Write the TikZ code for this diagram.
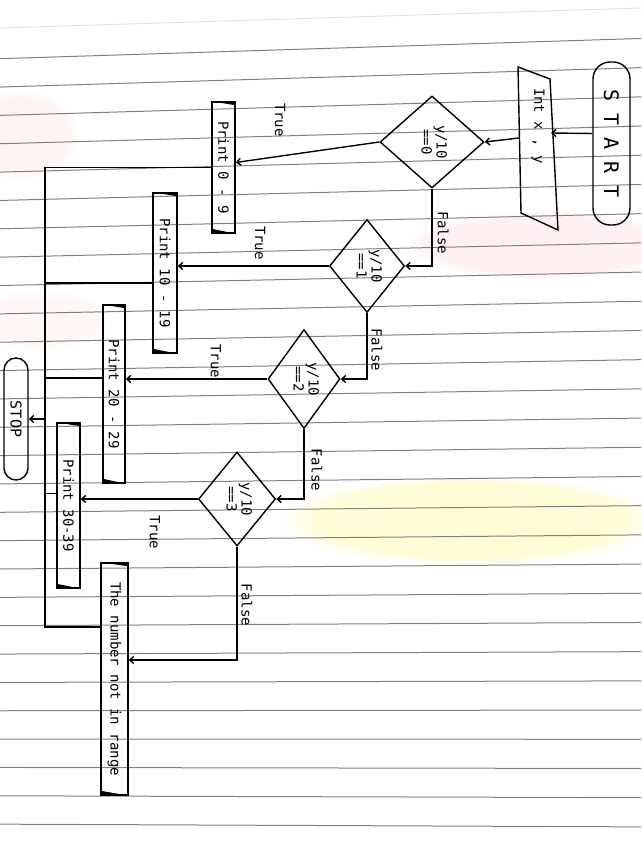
\documentclass[tikz,border=0pt]{standalone}
\usepackage{fontspec}
\usepackage{graphicx}
\usetikzlibrary{shapes.geometric,arrows.meta,fadings}
\newfontfamily\hand{DejaVu Sans Mono}
\newfontfamily\handwide[LetterSpace=60]{DejaVu Sans Mono}
\newcommand\rt[1]{\rotatebox{-90}{#1}}
\newcommand\cornermarks[1]{%
  \fill (#1.north west) -- (#1.north east) -- ([yshift=-4pt]#1.north east) -- cycle;
  \fill (#1.south west) -- ([yshift=5pt]#1.south west) -- (#1.south east) -- cycle;}
\tikzset{
  line/.style={line width=1.4pt},
  arr/.style={line width=1.4pt, -{Straight Barb[length=4pt,width=7pt]}},
  terminal/.style={draw, line width=1.4pt, rounded corners=12pt, inner sep=0pt},
  outbox/.style={draw, line width=1.4pt, inner sep=0pt},
  decision/.style={draw, diamond, line width=1.4pt, inner sep=0pt, font=\hand\fontsize{14}{15}\selectfont},
  lbl/.style={rotate=-90, inner sep=0pt},
  ruled/.style={black!50, line width=1pt},
  stain/.style={path fading=circle with fuzzy edge 20 percent}
}

\begin{document}
\begin{tikzpicture}[x=1pt, y=-1pt, font=\hand\fontsize{14}{16}\selectfont]
    \useasboundingbox (0,0) rectangle (641,842);
    \fill[white] (0,0) rectangle (641,842);
    \fill[stain, pink!22] (545,245) ellipse (140 and 35);
    \fill[stain, yellow!16] (470,520) ellipse (190 and 45);
    \fill[stain, pink!18] (20,135) ellipse (60 and 45);
    \fill[stain, pink!14] (40,320) ellipse (70 and 30);
    \draw[pink!50!gray!40, line width=0.8pt] (0,28) -- (641,8);
    \foreach \k in {2,...,29} {
      \pgfmathsetmacro\ya{2+28.35*\k}
      \pgfmathsetmacro\yb{\ya-22+0.03*\ya}
      \draw[ruled] (0,\ya) -- (641,\yb);
    }

    \node [terminal, minimum width=37, minimum height=163, rounded corners=17pt, font=\handwide\fontsize{20}{22}\selectfont] (start) at (611.5,143.5) {\rt{START}};
    \draw [line] (518,67) -- (550,79) -- (558,230) -- (521,213) -- cycle;
    \node (input) at (538,126) {\rt{Int x , y}};
    \coordinate (inR) at (551,133);
    \coordinate (inL) at (519,138);

    \node [decision, minimum width=104, minimum height=92] (d1) at (432,142) {\rt{\begin{tabular}{@{}c@{}}y/10\\==0\end{tabular}}};
    \node [decision, minimum width=75, minimum height=93] (d2) at (367,266) {\rt{\begin{tabular}{@{}c@{}}y/10\\==1\end{tabular}}};
    \node [decision, minimum width=72, minimum height=99] (d3) at (304,379) {\rt{\begin{tabular}{@{}c@{}}y/10\\==2\end{tabular}}};
    \node [decision, minimum width=77, minimum height=94] (d4) at (237,499) {\rt{\begin{tabular}{@{}c@{}}y/10\\==3\end{tabular}}};

    \node [outbox, minimum width=23, minimum height=131] (p0) at (223.5,167.5) {\rt{Print 0 - 9}};
    \node [outbox, minimum width=24, minimum height=160] (p1) at (165,273) {\rt{Print 10 - 19}};
    \node [outbox, minimum width=22, minimum height=178] (p2) at (114,394) {\rt{Print 20 - 29}};
    \node [outbox, minimum width=23, minimum height=165] (p3) at (68.5,505.5) {\rt{Print 30-39}};
    \node [outbox, minimum width=27, minimum height=232] (nr) at (114.5,679) {\rt{The number not in range}};
    \cornermarks{p0}
    \cornermarks{p1}
    \cornermarks{p2}
    \cornermarks{p3}
    \cornermarks{nr}

    \node [terminal, minimum width=24, minimum height=122, font=\hand\fontsize{15}{17}\selectfont] (stop) at (16,419) {\rt{STOP}};

    \node [lbl] (t1) at (280,120) {True};
    \node [lbl] (t2) at (260,243) {True};
    \node [lbl] (t3) at (216,361) {True};
    \node [lbl] (t4) at (155,532) {True};
    \node [lbl] (f1) at (443,233) {False};
    \node [lbl] (f2) at (377,350) {False};
    \node [lbl] (f3) at (317,470) {False};
    \node [lbl] (f4) at (247,605) {False};

    \draw [arr] ([yshift=10pt]start.west) -- (inR);
    \draw [arr] (inL) -- (d1.east);
    \draw [arr] (d1.west) -- ([yshift=5pt]p0.east);
    \draw [arr] (d2.west) -- (d2.west -| p1.east);
    \draw [arr] (d3.west) -- (d3.west -| p2.east);
    \draw [arr] (d4.west) -- (d4.west -| p3.east);
    \draw [arr] (d1.south) |- (d2.east);
    \draw [arr] (d2.south) |- (d3.east);
    \draw [arr] (d3.south) |- (d4.east);
    \draw [arr] (d4.south) |- ([yshift=19pt]nr.east);

    \coordinate (busB) at (45,627);
    \draw [line] (p0.west) -| (busB) -- (busB -| nr.west);
    \draw [line] ([yshift=-10pt]p1.west) -- ([yshift=-10pt]p1.west -| busB);
    \draw [line] ([yshift=16pt]p2.west) -- ([yshift=16pt]p2.west -| busB);
    \draw [line] ([yshift=12pt]p3.west) -- ([yshift=12pt]p3.west -| busB);
    \draw [arr] (stop.east -| busB) -- (stop.east);
\end{tikzpicture}
\end{document}
